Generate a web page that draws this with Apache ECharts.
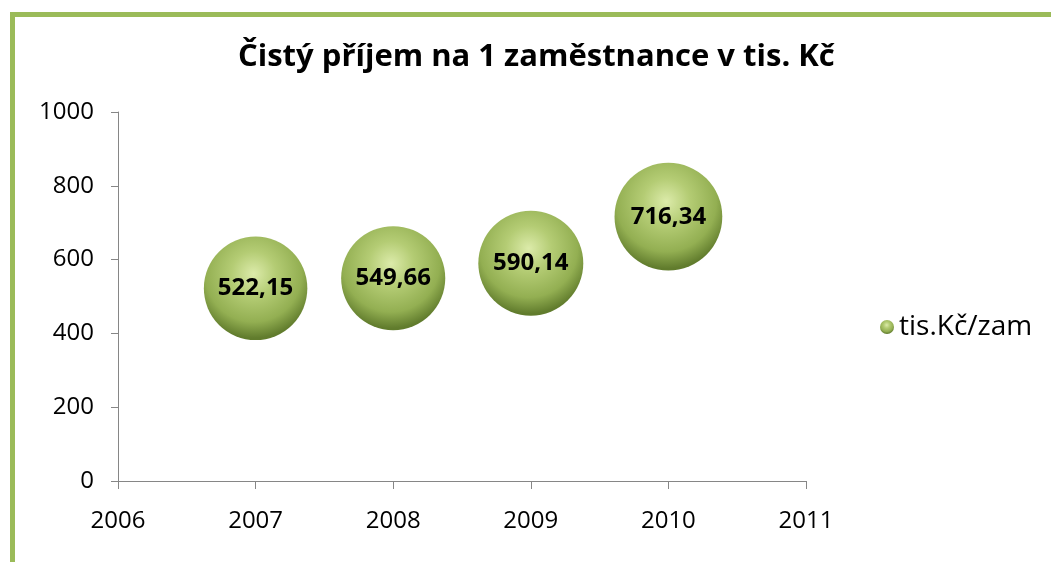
<!DOCTYPE html>
<html>
<head>
<meta charset="utf-8">
<script src="https://cdn.jsdelivr.net/npm/echarts@6/dist/echarts.min.js"></script>
<style>
html,body{margin:0;padding:0;background:#fff;}
#c{width:1051px;height:562px;}
</style>
</head>
<body>
<div id="c"></div>
<script>
const title = 'Čistý příjem na 1 zaměstnance v tis. Kč';
const seriesName = 'tis.Kč/zam';
const years = [2007, 2008, 2009, 2010];
const values = [522.15, 549.66, 590.14, 716.34];
const xTicks = [2006, 2007, 2008, 2009, 2010, 2011];
const yTicks = [0, 200, 400, 600, 800, 1000];

const FONT = 'Open Sans';
const sphere = {
  type: 'radial', x: 0.48, y: 0.36, r: 0.62,
  colorStops: [
    {offset: 0, color: '#dcebaa'},
    {offset: 0.35, color: '#b4cc74'},
    {offset: 0.75, color: '#93af52'},
    {offset: 1, color: '#617c2d'}
  ]
};

const chart = echarts.init(document.getElementById('c'), null, {renderer: 'canvas'});
chart.setOption({
  backgroundColor: '#fff',
  animation: false,
  graphic: [{
    type: 'rect', left: 10, top: 12, z: -1,
    shape: {width: 1100, height: 600},
    style: {fill: 'transparent', stroke: '#9bbb59', lineWidth: 5}
  }],
  title: {
    text: title, left: 233, top: 37,
    textStyle: {fontFamily: FONT, fontWeight: 'bold', fontSize: 31, color: '#000'}
  },
  legend: {
    left: 875, top: 308, orient: 'vertical',
    icon: 'circle', itemWidth: 14, itemHeight: 14, itemGap: 6,
    textStyle: {fontFamily: FONT, fontSize: 28, color: '#000'},
    data: [seriesName]
  },
  grid: {left: 118, right: 245, top: 112, bottom: 81, containLabel: false},
  xAxis: {
    type: 'value', min: xTicks[0], max: xTicks[xTicks.length - 1], interval: 1,
    axisLine: {lineStyle: {color: '#868686', width: 1}},
    axisTick: {show: true, length: 8, lineStyle: {color: '#868686'}},
    splitLine: {show: false},
    axisLabel: {fontFamily: FONT, fontSize: 24, color: '#000', margin: 28, formatter: v => String(v)}
  },
  yAxis: {
    type: 'value', min: yTicks[0], max: yTicks[yTicks.length - 1], interval: 200,
    axisLine: {show: true, lineStyle: {color: '#868686', width: 1}},
    axisTick: {show: true, length: 7, lineStyle: {color: '#868686'}},
    splitLine: {show: false},
    axisLabel: {fontFamily: FONT, fontSize: 24, color: '#000', margin: 24, formatter: v => String(v)}
  },
  series: [{
    name: seriesName,
    type: 'scatter',
    data: years.map((y, i) => [y, values[i]]),
    symbol: 'circle',
    symbolSize: d => 92 + d[1] * 0.022,
    itemStyle: {color: sphere, opacity: 1},
    label: {
      show: true, position: 'inside',
      fontFamily: FONT, fontWeight: 'bold', fontSize: 24, color: '#000',
      formatter: p => p.value[1].toFixed(2).replace('.', ',')
    }
  }]
});
</script>
</body>
</html>
